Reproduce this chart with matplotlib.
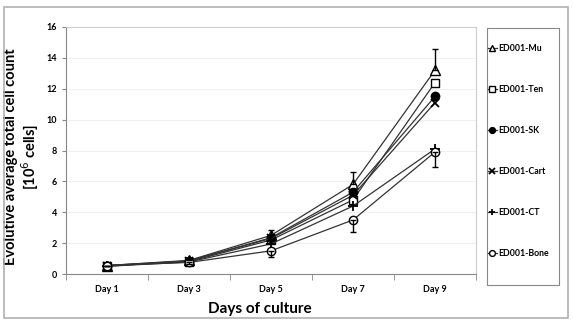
import matplotlib
matplotlib.use("Agg")
import matplotlib.pyplot as plt
from matplotlib.patches import Rectangle

days = ['Day 1', 'Day 3', 'Day 5', 'Day 7', 'Day 9']
mu = [0.55, 0.88, 2.5, 5.8, 13.2]
ten = [0.55, 0.8, 2.2, 4.8, 12.4]
sk = [0.55, 0.85, 2.35, 5.3, 11.5]
cart = [0.5, 0.85, 2.3, 5.1, 11.1]
ct = [0.5, 0.78, 1.95, 4.4, 8.1]
bone = [0.55, 0.75, 1.5, 3.5, 7.9]

mu_err_up = [0.0, 0.1, 0.35, 0.8, 1.4]
bone_err_down = [0.0, 0.1, 0.4, 0.8, 1.0]

fig = plt.figure(figsize=(5.73, 3.23), dpi=100)
plt.rcParams['font.family'] = ['Lato', 'DejaVu Sans']

# outer frame + legend box
fig.patches.append(Rectangle((4 / 573, 1 - 318 / 323), 564 / 573, 311 / 323,
                             transform=fig.transFigure, fill=False,
                             edgecolor='#b0b0b0', linewidth=1.2))
fig.patches.append(Rectangle((487 / 573, 1 - 285 / 323), 72 / 573, 257 / 323,
                             transform=fig.transFigure, fill=False,
                             edgecolor='#888888', linewidth=0.8))

ax = fig.add_axes([66 / 573, 1 - 274 / 323, 410 / 573, 247 / 323])
x = list(range(len(days)))

series = [
    ('ED001-Mu', mu, dict(marker='^', mfc='white', ms=7)),
    ('ED001-Ten', ten, dict(marker='s', mfc='white', ms=6)),
    ('ED001-SK', sk, dict(marker='o', mfc='black', ms=6)),
    ('ED001-Cart', cart, dict(marker='x', mfc='black', ms=6, mew=1.3)),
    ('ED001-CT', ct, dict(marker='+', mfc='black', ms=7, mew=1.3)),
    ('ED001-Bone', bone, dict(marker='o', mfc='white', ms=6)),
]

for name, vals, st in series:
    ax.plot(x, vals, color='#333333', lw=0.9, mec='black', label=name, **st)

ax.errorbar(x, mu, yerr=[[0] * 5, mu_err_up], fmt='none', ecolor='black',
            elinewidth=1.0, capsize=2)
ax.errorbar(x, bone, yerr=[bone_err_down, [0] * 5], fmt='none', ecolor='black',
            elinewidth=1.0, capsize=2)

ax.set_xlim(-0.5, len(days) - 0.5)
ax.set_ylim(0, 16)
ax.set_yticks(range(0, 17, 2))
ax.set_xticks(x)
ax.set_xticklabels(days, fontsize=6.5, fontweight='bold')
ax.set_xticks([i + 0.5 for i in range(-1, len(days))], minor=True)
ax.tick_params(axis='x', which='major', length=0, pad=8)
ax.tick_params(axis='x', which='minor', length=4, direction='out', color='#888888')
ax.tick_params(axis='y', labelsize=6.5, length=3, color='#888888')
for lab in ax.get_yticklabels():
    lab.set_fontweight('bold')
ax.grid(axis='y', color='#eeeeee', lw=0.6)
ax.set_axisbelow(True)
for s in ['top', 'right']:
    ax.spines[s].set_color('#cccccc')
for s in ['left', 'bottom']:
    ax.spines[s].set_color('#888888')

ax.set_xlabel('Days of culture', fontsize=11, fontweight='bold')
ax.xaxis.set_label_coords(0.473, -0.115)
ax.set_ylabel('Evolutive average total cell count\n[10$^6$ cells]', fontsize=10.5,
              fontweight='bold', linespacing=1.05)
ax.yaxis.set_label_coords(-0.062, 0.476)

leg = fig.legend(loc='center left', bbox_to_anchor=(488 / 573, 1 - 151 / 323),
                 fontsize=6.3, frameon=False,
                 labelspacing=3.66, handlelength=1.0, handletextpad=0.2,
                 borderpad=0, borderaxespad=0, markerscale=0.7)
for t in leg.get_texts():
    t.set_fontweight('bold')

fig.savefig('out.png', dpi=100)
